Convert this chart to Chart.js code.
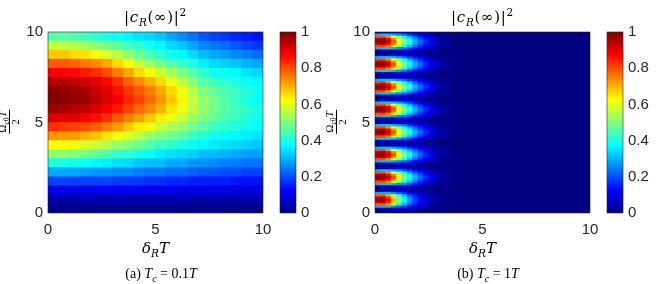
<!DOCTYPE html>
<html>
<head>
<meta charset="utf-8">
<script src="https://cdn.jsdelivr.net/npm/chart.js@4.4.1/dist/chart.umd.min.js"></script>
<style>
  body { margin: 0; background: #fff; }
  #fig { position: relative; width: 657px; height: 284px; overflow: hidden; }
  #fig canvas { position: absolute; top: 0; }
  .tex { position: absolute; transform: translate(-50%, -50%); white-space: nowrap;
         font-family: "Liberation Serif", "DejaVu Serif", serif; color: #000; line-height: 1; }
  .tex sub, .tex sup { font-size: 70%; line-height: 0; }
  .ttl { font-family: "DejaVu Serif", serif; font-size: 15px; letter-spacing: 0.7px; }
  .xl { font-family: "DejaVu Serif", serif; font-size: 15px; }
  .ylab { transform: translate(-50%, -50%) rotate(-90deg); }
  .frac { display: inline-flex; flex-direction: column; align-items: center; }
  .frac .num { border-bottom: 0.8px solid #000; padding: 0 1px 1px; }
</style>
</head>
<body>
<div id="fig">
  <canvas id="heatA" width="285" height="245" style="left:0px"></canvas>
  <canvas id="barA" width="57" height="245" style="left:270px"></canvas>
  <canvas id="heatB" width="285" height="245" style="left:327px"></canvas>
  <canvas id="barB" width="57" height="245" style="left:597px"></canvas>

  <div class="tex ttl" style="left:155.5px;top:17px">|<i>c</i><sub><i>R</i></sub>(∞)|<sup>2</sup></div>
  <div class="tex ylab" style="left:9px;top:122px;font-size:11px"><span class="frac"><span class="num">Ω<sub><i>c</i>0</sub><i>T</i></span><span>2</span></span></div>
  <div class="tex xl" style="left:155.5px;top:248px"><i>δ</i><sub><i>R</i></sub><i>T</i></div>
  <div class="tex" style="left:161px;top:274px;font-size:14px">(a) <i>T</i><sub><i>c</i></sub> = 0.1<i>T</i></div>

  <div class="tex ttl" style="left:482.5px;top:17px">|<i>c</i><sub><i>R</i></sub>(∞)|<sup>2</sup></div>
  <div class="tex ylab" style="left:336px;top:122px;font-size:11px"><span class="frac"><span class="num">Ω<sub><i>c</i>0</sub><i>T</i></span><span>2</span></span></div>
  <div class="tex xl" style="left:482.5px;top:248px"><i>δ</i><sub><i>R</i></sub><i>T</i></div>
  <div class="tex" style="left:488px;top:274px;font-size:14px">(b) <i>T</i><sub><i>c</i></sub> = 1<i>T</i></div>
</div>
<script>
// axis ticks
var deltaTicks = [0, 5, 10];
var omegaTicks = [0, 5, 10];
var cbTicks = [0, 0.2, 0.4, 0.6, 0.8, 1];

// (a) Tc = 0.1T : cells 0.5 wide in delta, rows 0.5 tall in omega
var deltaEdgesA = [0, 0.5, 1, 1.5, 2, 2.5, 3, 3.5, 4, 4.5, 5, 5.5, 6, 6.5, 7, 7.5, 8, 8.5, 9, 9.5, 10];
var omegaRowsA = [0.25, 0.75, 1.25, 1.75, 2.25, 2.75, 3.25, 3.75, 4.25, 4.75, 5.25, 5.75, 6.25, 6.75, 7.25, 7.75, 8.25, 8.75, 9.25, 9.75];
var probA = [
  [.01,.01,.01,.01,.01,.01,.01,.01,.01,.01,.01,.01,.01,.01,.01,.01,.01,.01,.01,.01],
  [.04,.04,.04,.05,.05,.05,.05,.05,.05,.05,.05,.05,.05,.04,.04,.04,.04,.04,.04,.04],
  [.10,.10,.10,.10,.11,.11,.11,.11,.11,.11,.11,.11,.10,.10,.10,.10,.10,.09,.09,.09],
  [.19,.19,.19,.19,.19,.19,.18,.18,.18,.17,.17,.16,.16,.15,.15,.15,.15,.14,.14,.14],
  [.29,.29,.29,.28,.27,.27,.26,.26,.25,.24,.24,.23,.23,.22,.21,.21,.20,.20,.19,.19],
  [.40,.40,.39,.38,.37,.36,.35,.34,.32,.31,.31,.29,.29,.27,.27,.26,.25,.25,.24,.24],
  [.51,.51,.50,.49,.47,.45,.43,.42,.40,.38,.36,.35,.34,.33,.31,.31,.30,.29,.28,.28],
  [.62,.62,.61,.59,.57,.55,.52,.50,.48,.45,.43,.42,.40,.38,.37,.36,.35,.34,.33,.32],
  [.73,.72,.72,.70,.68,.65,.62,.59,.56,.52,.50,.48,.46,.43,.41,.39,.38,.37,.36,.35],
  [.83,.82,.81,.80,.78,.75,.72,.68,.64,.61,.57,.54,.52,.49,.46,.43,.42,.41,.39,.38],
  [.91,.90,.90,.88,.86,.83,.79,.75,.72,.68,.64,.61,.57,.53,.50,.47,.45,.43,.41,.39],
  [.97,.96,.95,.94,.91,.88,.85,.81,.77,.74,.70,.65,.61,.56,.52,.49,.46,.44,.42,.40],
  [1.0,.99,.98,.97,.94,.91,.88,.84,.81,.77,.73,.68,.63,.57,.52,.49,.46,.43,.40,.38],
  [.99,.98,.97,.96,.93,.90,.86,.82,.79,.75,.71,.66,.61,.55,.50,.47,.45,.43,.41,.39],
  [.95,.95,.94,.92,.90,.87,.83,.78,.74,.70,.66,.61,.56,.51,.46,.43,.42,.40,.38,.37],
  [.88,.88,.87,.85,.83,.80,.75,.71,.66,.62,.58,.54,.50,.46,.42,.39,.38,.37,.35,.34],
  [.79,.79,.78,.76,.74,.71,.66,.62,.57,.53,.49,.46,.43,.40,.36,.34,.33,.32,.30,.29],
  [.68,.68,.66,.65,.62,.59,.56,.52,.48,.45,.42,.39,.37,.34,.31,.29,.28,.26,.25,.23],
  [.57,.56,.55,.54,.51,.49,.47,.44,.42,.39,.37,.34,.32,.29,.26,.24,.23,.21,.19,.18],
  [.46,.46,.45,.44,.42,.40,.39,.37,.35,.34,.32,.29,.26,.24,.21,.19,.18,.16,.15,.14]
];

// (b) Tc = 1T : eight lobes near delta = 0, everything else ~0
var deltaEdgesB = [0, 0.25, 0.5, 0.75, 1, 1.25, 1.5, 1.75, 2, 2.25, 2.5, 2.75, 3, 3.5];
var lobeCentersB = [0.71, 1.96, 3.21, 4.46, 5.71, 6.96, 8.21, 9.46];
var lobeOffsetsB = [-0.5, -0.375, -0.25, -0.125, 0, 0.125, 0.25, 0.375, 0.5, 0.625];
// lowest lobe has a shorter tail than the others
var lobeLowB = [
  [.03,.04,.05,.07,.07,.07,.06,.04,.03,.02,.01,.00,.00],
  [.29,.31,.30,.27,.22,.17,.13,.09,.06,.04,.03,.01,.00],
  [.78,.79,.70,.55,.41,.30,.21,.15,.10,.06,.04,.02,.01],
  [.94,.95,.84,.66,.49,.36,.25,.18,.12,.08,.05,.03,.01],
  [.97,.98,.88,.70,.52,.38,.27,.19,.13,.08,.05,.03,.01],
  [.94,.95,.84,.66,.49,.36,.25,.18,.12,.08,.05,.03,.01],
  [.78,.79,.70,.55,.41,.30,.21,.15,.10,.06,.04,.02,.01],
  [.29,.31,.30,.27,.22,.17,.13,.09,.06,.04,.03,.01,.00],
  [.03,.04,.05,.07,.07,.07,.06,.04,.03,.02,.01,.00,.00],
  [.00,.01,.02,.03,.03,.03,.03,.02,.02,.01,.00,.00,.00]
];
var lobeB = [
  [.03,.04,.06,.08,.09,.09,.08,.06,.05,.03,.02,.01,.00],
  [.30,.32,.32,.30,.27,.23,.18,.14,.10,.07,.05,.03,.01],
  [.80,.81,.74,.62,.50,.39,.30,.23,.16,.11,.07,.04,.02],
  [.95,.96,.88,.75,.60,.47,.37,.28,.21,.15,.10,.06,.03],
  [.98,1.0,.93,.80,.64,.50,.40,.31,.23,.17,.12,.07,.03],
  [.95,.96,.88,.75,.60,.47,.37,.28,.21,.15,.10,.06,.03],
  [.80,.81,.74,.62,.50,.39,.30,.23,.16,.11,.07,.04,.02],
  [.30,.32,.32,.30,.27,.23,.18,.14,.10,.07,.05,.03,.01],
  [.03,.04,.06,.08,.09,.09,.08,.06,.05,.03,.02,.01,.00],
  [.00,.01,.02,.03,.04,.04,.04,.03,.02,.02,.01,.00,.00]
];
var lobeTablesB = [lobeLowB, lobeB, lobeB, lobeB, lobeB, lobeB, lobeB, lobeB];

var jetStops = [[0, 'rgb(0,0,128)'], [0.125, 'rgb(0,0,255)'], [0.375, 'rgb(0,255,255)'],
                [0.625, 'rgb(255,255,0)'], [0.875, 'rgb(255,0,0)'], [1, 'rgb(128,0,0)']];

function jet(v) {
  var c = function (t) { return Math.round(255 * Math.max(0, Math.min(1, 1.5 - Math.abs(t)))); };
  return 'rgb(' + c(4 * v - 3) + ',' + c(4 * v - 2) + ',' + c(4 * v - 1) + ')';
}

var tickFont = { family: 'Liberation Sans, Arial, sans-serif', size: 15 };
var tickColor = '#262626';

// dark-blue floor under the cells and the thin box round the axes
var frame = {
  id: 'frame',
  beforeDatasetsDraw: function (chart) {
    var a = chart.chartArea, ctx = chart.ctx;
    ctx.save();
    ctx.fillStyle = jet(0);
    ctx.fillRect(a.left, a.top, a.width, a.height);
    ctx.restore();
  },
  afterDatasetsDraw: function (chart) {
    var a = chart.chartArea, ctx = chart.ctx;
    ctx.save();
    ctx.strokeStyle = '#262626';
    ctx.lineWidth = 0.6;
    ctx.strokeRect(a.left, a.top, a.width, a.height);
    ctx.restore();
  }
};

function rowDataset(y, edges, values) {
  return {
    data: values.map(function (v, j) { return { y: y, x: [edges[j], edges[j + 1]] }; }),
    backgroundColor: values.map(jet),
    borderWidth: 0,
    grouped: false,
    barPercentage: 1,
    categoryPercentage: 1
  };
}

function fixedTicks(list) {
  return function (s) { s.ticks = list.map(function (v) { return { value: v }; }); };
}

function heatChart(id, datasets) {
  return new Chart(document.getElementById(id), {
    type: 'bar',
    data: { datasets: datasets },
    options: {
      indexAxis: 'y',
      responsive: false,
      animation: false,
      events: [],
      layout: { padding: { top: 32, right: 22, bottom: 0, left: 0 } },
      plugins: { legend: { display: false }, tooltip: { enabled: false } },
      scales: {
        x: {
          type: 'linear', min: 0, max: 10, offset: false,
          grid: { display: false, drawTicks: false },
          border: { display: false },
          afterBuildTicks: fixedTicks(deltaTicks),
          afterFit: function (s) { s.height = 32; s.paddingLeft = 0; s.paddingRight = 0; },
          ticks: { font: tickFont, color: tickColor, padding: 8, maxRotation: 0, autoSkip: false,
                   callback: function (v) { return String(v); } }
        },
        y: {
          type: 'linear', min: 0, max: 10, offset: false,
          grid: { display: false, drawTicks: false, offset: false },
          border: { display: false },
          afterBuildTicks: fixedTicks(omegaTicks),
          afterFit: function (s) { s.width = 48; },
          ticks: { font: tickFont, color: tickColor, padding: 5, autoSkip: false,
                   callback: function (v) { return String(v); } }
        }
      }
    },
    plugins: [frame]
  });
}

function colorBar(id) {
  return new Chart(document.getElementById(id), {
    type: 'bar',
    data: {
      datasets: [{
        data: [{ x: 0.5, y: [0, 1] }],
        backgroundColor: function (c) {
          var chart = c.chart;
          if (!chart.chartArea) return jet(0);
          var ys = chart.scales.y;
          var g = chart.ctx.createLinearGradient(0, ys.getPixelForValue(0), 0, ys.getPixelForValue(1));
          jetStops.forEach(function (s) { g.addColorStop(s[0], s[1]); });
          return g;
        },
        borderWidth: 0,
        barPercentage: 1,
        categoryPercentage: 1
      }]
    },
    options: {
      responsive: false,
      animation: false,
      events: [],
      layout: { padding: { top: 32, right: 0, bottom: 32, left: 10 } },
      plugins: { legend: { display: false }, tooltip: { enabled: false } },
      scales: {
        x: { type: 'linear', min: 0, max: 1, display: false, offset: false,
             afterBuildTicks: function (s) { s.ticks = []; } },
        y: {
          type: 'linear', min: 0, max: 1, position: 'right',
          grid: { display: false, drawTicks: false },
          border: { display: false },
          afterBuildTicks: fixedTicks(cbTicks),
          afterFit: function (s) { s.width = 31; },
          ticks: { font: tickFont, color: tickColor, padding: 5, autoSkip: false,
                   callback: function (v) { return String(v); } }
        }
      }
    },
    plugins: [frame]
  });
}

var setA = omegaRowsA.map(function (y, i) { return rowDataset(y, deltaEdgesA, probA[i]); });

var setB = [];
lobeCentersB.forEach(function (c, k) {
  lobeOffsetsB.forEach(function (d, r) {
    setB.push(rowDataset(c + d, deltaEdgesB, lobeTablesB[k][r]));
  });
});

heatChart('heatA', setA);
colorBar('barA');
heatChart('heatB', setB);
colorBar('barB');
</script>
</body>
</html>
